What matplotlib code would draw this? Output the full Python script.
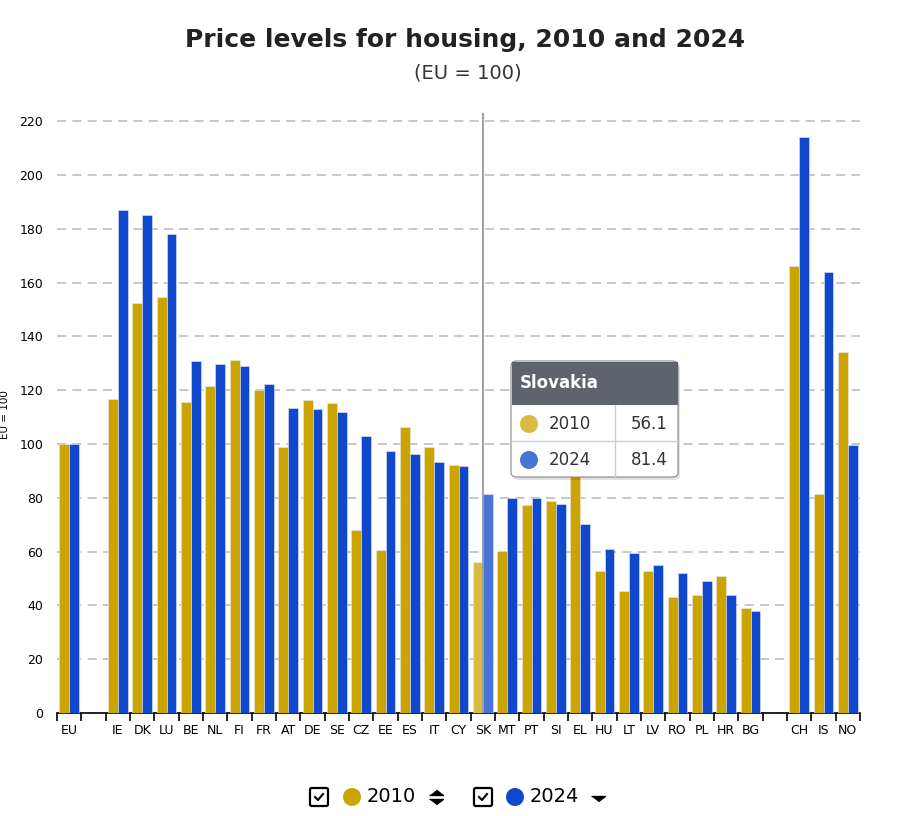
import matplotlib
matplotlib.use("Agg")
import matplotlib.pyplot as plt
import numpy as np
from matplotlib.patches import FancyBboxPatch, Rectangle, Ellipse

# gaps between EU / member states / EFTA are empty slots
categories = ["EU", "", "IE", "DK", "LU", "BE", "NL", "FI", "FR", "AT", "DE", "SE",
              "CZ", "EE", "ES", "IT", "CY", "SK", "MT", "PT", "SI", "EL", "HU", "LT",
              "LV", "RO", "PL", "HR", "BG", "", "CH", "IS", "NO"]
values_2010 = [100.0, None, 116.7, 152.4, 154.6, 115.6, 121.5, 131.2, 120.0, 98.8, 116.3, 115.2,
               68.0, 60.6, 106.3, 98.8, 92.2, 56.1, 60.2, 77.3, 78.8, 89.5, 52.8, 45.3,
               52.8, 43.1, 43.9, 50.9, 39.0, None, 166.1, 81.4, 134.2]
values_2024 = [100.0, None, 187.0, 185.1, 178.0, 130.8, 129.7, 128.9, 122.3, 113.3, 113.0, 111.9,
               102.9, 97.4, 96.2, 93.3, 91.8, 81.4, 79.9, 79.9, 77.7, 70.2, 60.9, 59.5,
               55.0, 52.0, 49.1, 43.9, 37.9, None, 214.0, 163.9, 99.6]
yticks = [0, 20, 40, 60, 80, 100, 120, 140, 160, 180, 200, 220]
hover = "SK"
hover_name = "Slovakia"

gold = "#cca400"
blue = "#0f48cc"
gold_hi = "#d8bb40"
blue_hi = "#4a73d8"

W, H = 913, 816
fig = plt.figure(figsize=(W / 100, H / 100), dpi=100)
ax = fig.add_axes([57 / W, 1 - 713 / H, (860 - 57) / W, (713 - 113) / H])

x = np.arange(len(categories))
v10 = np.array([np.nan if v is None else v for v in values_2010])
v24 = np.array([np.nan if v is None else v for v in values_2024])
bw = 0.41
hi = categories.index(hover)
c10 = [gold_hi if i == hi else gold for i in range(len(x))]
c24 = [blue_hi if i == hi else blue for i in range(len(x))]
ax.bar(x - bw / 2, v10, bw, color=c10, edgecolor="#e8e8f0", linewidth=0.4, zorder=3)
ax.bar(x + bw / 2, v24, bw, color=c24, edgecolor="#e8e8f0", linewidth=0.4, zorder=3)

ax.set_xlim(-0.5, len(categories) - 0.5)
ax.set_ylim(0, 223)
ax.set_yticks(yticks)
ax.set_yticklabels([str(t) for t in yticks], fontsize=9)
ax.yaxis.grid(True, color="#b8b8b8", linestyle=(0, (6, 4)), linewidth=1.1)
ax.set_axisbelow(True)
ax.tick_params(axis="y", length=0, pad=10)
ax.set_xticks(x)
ax.set_xticklabels(categories, fontsize=9)
ax.set_xticks(np.arange(-0.5, len(categories)), minor=True)
ax.tick_params(axis="x", which="major", length=0, pad=8)
ax.tick_params(axis="x", which="minor", length=6, width=1.2, color="black")
for s in ["left", "right", "top"]:
    ax.spines[s].set_visible(False)
ax.spines["bottom"].set_linewidth(1.2)

# hover line
ax.axvline(hi, color="#999999", linewidth=1.3, zorder=4)

fig.text(5 / W, 1 - 415 / H, "EU = 100", rotation=90, fontsize=7.5, ha="center", va="center")
fig.text(465 / W, 1 - 40 / H, "Price levels for housing, 2010 and 2024", fontsize=18,
         fontweight="bold", ha="center", va="center", color="#222222")
fig.text(468 / W, 1 - 73 / H, "(EU = 100)", fontsize=14, ha="center", va="center", color="#333333")


def fp(px, py):
    return (px / W, 1 - py / H)


def dot(px, py, col, r=9, z=13):
    fig.patches.append(Ellipse(fp(px, py), 2 * r / W, 2 * r / H, transform=fig.transFigure,
                               facecolor=col, edgecolor="none", zorder=z))


tr = fig.transFigure
# tooltip
x0, x1, y0, y1 = 511, 678, 361, 477
shadow = FancyBboxPatch(fp(x0 + 2, y1 + 3), (x1 - x0) / W, (y1 - y0) / H,
                        boxstyle="round,pad=0,rounding_size=0.006", transform=tr,
                        facecolor="#000000", alpha=0.12, edgecolor="none", zorder=10)
fig.patches.append(shadow)
box = FancyBboxPatch(fp(x0, y1), (x1 - x0) / W, (y1 - y0) / H,
                     boxstyle="round,pad=0,rounding_size=0.006", transform=tr,
                     facecolor="white", edgecolor="#888888", linewidth=0.8, zorder=11)
fig.patches.append(box)
header = Rectangle(fp(x0 + 0.5, 405), (x1 - x0 - 1) / W, (405 - y0 - 0.5) / H, transform=tr,
                   facecolor="#5f636e", edgecolor="none", zorder=12)
fig.patches.append(header)
fig.text(520 / W, 1 - 383 / H, hover_name, fontsize=12, fontweight="bold", color="white",
         va="center", ha="left", zorder=13)
fig.lines.append(plt.Line2D([x0 / W, x1 / W], [1 - 441 / H] * 2, transform=tr,
                            color="#cccccc", linewidth=1, zorder=12))
fig.lines.append(plt.Line2D([615 / W] * 2, [1 - 405 / H, 1 - y1 / H], transform=tr,
                            color="#cccccc", linewidth=1, zorder=12))
for yy, lab, col, val in [(424, "2010", gold_hi, v10[hi]), (460, "2024", blue_hi, v24[hi])]:
    dot(529, yy, col)
    fig.text(549 / W, 1 - yy / H, lab, fontsize=12, color="#333333", va="center", zorder=13)
    fig.text(668 / W, 1 - yy / H, f"{val:.1f}", fontsize=12, color="#333333", va="center",
             ha="right", zorder=13)

# legend at bottom
ly = 797
for bx in [310, 474]:
    fig.patches.append(FancyBboxPatch(fp(bx, ly + 9), 18 / W, 18 / H,
                                      boxstyle="round,pad=0,rounding_size=0.002", transform=tr,
                                      facecolor="white", edgecolor="black", linewidth=1.6))
    fig.lines.append(plt.Line2D([(bx + 5) / W, (bx + 8) / W, (bx + 13) / W],
                                [1 - (ly) / H, 1 - (ly + 3) / H, 1 - (ly - 3) / H],
                                transform=tr, color="black", linewidth=1.5))
dot(352, ly, gold, z=2)
dot(515, ly, blue, z=2)
fig.text(367 / W, 1 - ly / H, "2010", fontsize=14, va="center", ha="left")
fig.text(530 / W, 1 - ly / H, "2024", fontsize=14, va="center", ha="left")
tri_up = [(-1, 0), (1, 0), (0, 0.75)]
tri_dn = [(-1, 0), (1, 0), (0, -0.75)]
fig.lines.append(plt.Line2D([436 / W], [1 - (ly - 2) / H], transform=tr, marker=tri_up,
                            markersize=10, color="black", linestyle="none"))
fig.lines.append(plt.Line2D([436 / W], [1 - (ly + 2) / H], transform=tr, marker=tri_dn,
                            markersize=10, color="black", linestyle="none"))
fig.lines.append(plt.Line2D([598 / W], [1 - (ly - 1) / H], transform=tr, marker=tri_dn,
                            markersize=10, color="black", linestyle="none"))

fig.savefig("out.png", dpi=100)
